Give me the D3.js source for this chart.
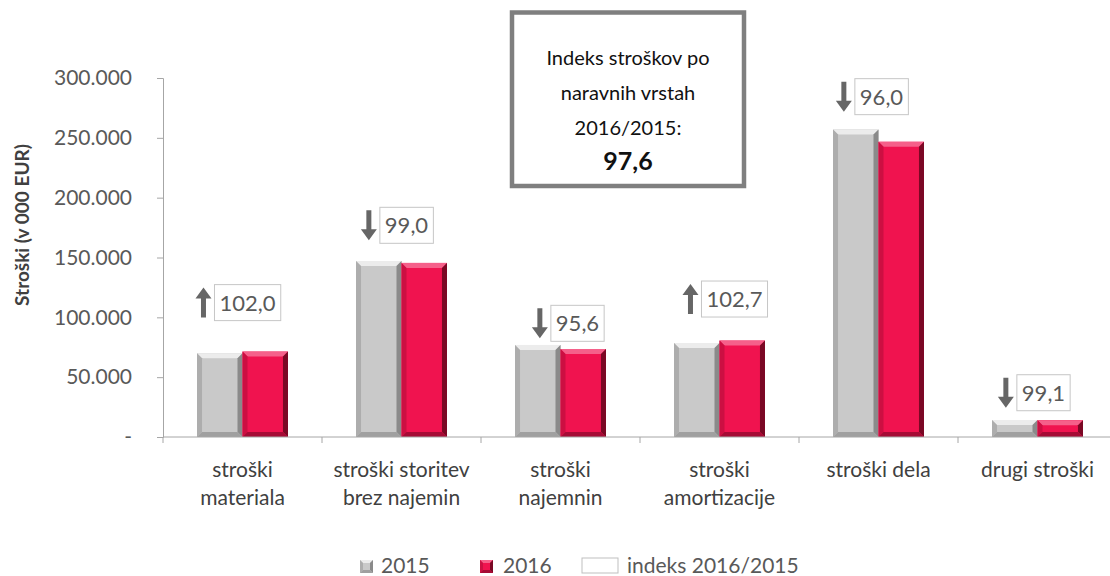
<!DOCTYPE html>
<html lang="sl">
<head>
<meta charset="UTF-8">
<title>Stroški po naravnih vrstah</title>
<script src="https://d3js.org/d3.v7.min.js"></script>
<style>
  body { margin: 0; background: #fff; }
  svg { display: block; font-family: Lato, "Open Sans", sans-serif; }
</style>
</head>
<body>
<div id="chart"></div>
<script>
// podatki (v 000 EUR)
const categories = [
  ["stroški", "materiala"],
  ["stroški storitev", "brez najemin"],
  ["stroški", "najemnin"],
  ["stroški", "amortizacije"],
  ["stroški dela"],
  ["drugi stroški"]
];
const years = ["2015", "2016"];
const values2015 = [70000, 147000, 76900, 78500, 257000, 14200];
const values2016 = [71400, 145500, 73500, 80600, 246700, 14100];
const indexValues = ["102,0", "99,0", "95,6", "102,7", "96,0", "99,1"];
const indexUp = [true, false, false, true, false, false];
// višina oznake indeksa (v enotah osi)
const indexLabelLevel = [112300, 176900, 95000, 115300, 284400, 37000];
const yTicks = [0, 50000, 100000, 150000, 200000, 250000, 300000];
const totalIndex = "97,6";
const boxLines = ["Indeks stroškov po", "naravnih vrstah", "2016/2015:"];

// ročni zamiki oznak (px)
const labelShift = [5, 5, 17, 15, 3, 6];

const width = 1110, height = 576;
const svg = d3.select("#chart").append("svg")
  .attr("width", width).attr("height", height);

const catIdx = d3.range(categories.length);
const x0 = d3.scaleBand().domain(catIdx).range([163, 1117])
  .paddingInner(0.428).paddingOuter(0.214);
const x1 = d3.scaleBand().domain(years).range([0, x0.bandwidth()]);
const y = d3.scaleLinear().domain([0, 300000]).range([437, 78]);

const sl = d3.formatLocale({ decimal: ",", thousands: ".", grouping: [3], currency: ["", " €"] });
const fmt = sl.format(",.0f");

const styles = {
  "2015": { base: "#c9c9c9", top: "#ececec", left: "#adadad", right: "#8a8a8a", bottom: "#a0a0a0" },
  "2016": { base: "#f0134f", top: "#f5608a", left: "#cc0f42", right: "#7a0824", bottom: "#a50b35" }
};

function bevel(g, x, yy, w, h, s, bw) {
  const b = Math.min(bw, h / 3, w / 3);
  g.append("rect").attr("x", x).attr("y", yy).attr("width", w).attr("height", h).attr("fill", s.base);
  const poly = (pts, c) => g.append("polygon").attr("points", pts.map(p => p.join(",")).join(" ")).attr("fill", c);
  poly([[x, yy], [x + w, yy], [x + w - b, yy + b], [x + b, yy + b]], s.top);
  poly([[x, yy], [x + b, yy + b], [x + b, yy + h - b], [x, yy + h]], s.left);
  poly([[x + w, yy], [x + w, yy + h], [x + w - b, yy + h - b], [x + w - b, yy + b]], s.right);
  poly([[x, yy + h], [x + b, yy + h - b], [x + w - b, yy + h - b], [x + w, yy + h]], s.bottom);
}

// stolpci
const bars = svg.append("g");
catIdx.forEach(i => {
  [[years[0], values2015[i]], [years[1], values2016[i]]].forEach(([yr, v]) => {
    const g = bars.append("g");
    bevel(g, x0(i) + x1(yr), y(v), x1.bandwidth(), y(0) - y(v), styles[yr], 5);
  });
});

// os y
const yAxis = svg.append("g").attr("transform", "translate(163,0)")
  .call(d3.axisLeft(y).tickValues(yTicks).tickSize(6).tickPadding(25)
    .tickFormat(d => d === 0 ? "-" : fmt(d)));
yAxis.select(".domain").attr("stroke", "#a6a6a6");
yAxis.selectAll(".tick line").attr("stroke", "#a6a6a6");
yAxis.selectAll(".tick text").attr("fill", "#595959").style("font-size", "21px")
  .style("font-family", "Lato, sans-serif");

// os x
const xAxis = svg.append("g").attr("transform", "translate(0,437)");
xAxis.append("line").attr("x1", 163).attr("x2", 1117).attr("stroke", "#a6a6a6");
d3.range(categories.length + 1).forEach(k => {
  const xx = 163 + k * x0.step();
  xAxis.append("line").attr("x1", xx).attr("x2", xx).attr("y1", 0).attr("y2", 6).attr("stroke", "#a6a6a6");
});
catIdx.forEach(i => {
  const cx = x0(i) + x0.bandwidth() / 2;
  const t = xAxis.append("text").attr("text-anchor", "middle").attr("fill", "#404040")
    .style("font-size", "21px");
  categories[i].forEach((line, j) => {
    t.append("tspan").attr("x", cx).attr("y", 40 + j * 28).text(line);
  });
});

// naslov osi y
svg.append("text").attr("transform", "translate(29,225) rotate(-90)")
  .attr("text-anchor", "middle").attr("fill", "#404040")
  .style("font-size", "19px").style("font-weight", "bold")
  .text("Stroški (v 000 EUR)");

// oznake indeksov
const labels = svg.append("g");
catIdx.forEach(i => {
  const cx = x0(i) + x0.bandwidth() / 2;
  const cy = y(indexLabelLevel[i]);
  const g = labels.append("g");
  const t = g.append("text").attr("x", cx + labelShift[i]).attr("y", cy + 8).attr("text-anchor", "middle")
    .attr("fill", "#595959").style("font-size", "22px").text(indexValues[i]);
  const bb = t.node().getBBox();
  g.insert("rect", "text").attr("x", bb.x - 5).attr("y", cy - 18).attr("width", bb.width + 10)
    .attr("height", 36).attr("fill", "#fff").attr("stroke", "#c6c6c6");
  const ax = bb.x - 5 - 11;
  const up = indexUp[i];
  const top = cy - 15, bot = cy + 15;
  const pts = up
    ? [[ax, top], [ax + 8, top + 11], [ax + 2.5, top + 11], [ax + 2.5, bot], [ax - 2.5, bot], [ax - 2.5, top + 11], [ax - 8, top + 11]]
    : [[ax, bot], [ax + 8, bot - 11], [ax + 2.5, bot - 11], [ax + 2.5, top], [ax - 2.5, top], [ax - 2.5, bot - 11], [ax - 8, bot - 11]];
  g.append("polygon").attr("points", pts.map(p => p.join(",")).join(" ")).attr("fill", "#666");
});

// okvir s skupnim indeksom
const box = svg.append("g");
box.append("rect").attr("x", 512).attr("y", 12.5).attr("width", 232).attr("height", 173.5)
  .attr("fill", "#fff").attr("stroke", "#7f7f7f").attr("stroke-width", 4.5);
boxLines.forEach((l, j) => {
  box.append("text").attr("x", 628).attr("y", 65 + j * 35).attr("text-anchor", "middle")
    .attr("fill", "#111").style("font-size", "20px").text(l);
});
box.append("text").attr("x", 628).attr("y", 170).attr("text-anchor", "middle")
  .attr("fill", "#111").style("font-size", "25px").style("font-weight", "bold").text(totalIndex);

// legenda
const legend = svg.append("g");
const legendItems = [
  { key: "2015", sx: 360, tx: 381 },
  { key: "2016", sx: 480, tx: 503 }
];
legendItems.forEach(d => {
  bevel(legend.append("g"), d.sx, 560, 13, 13, styles[d.key], 3);
  legend.append("text").attr("x", d.tx).attr("y", 573).attr("fill", "#595959")
    .style("font-size", "21px").text(d.key);
});
legend.append("rect").attr("x", 582).attr("y", 558).attr("width", 36).attr("height", 15)
  .attr("fill", "#fff").attr("stroke", "#bfbfbf");
legend.append("text").attr("x", 627).attr("y", 573).attr("fill", "#595959")
  .style("font-size", "21px").text("indeks 2016/2015");
</script>
</body>
</html>
